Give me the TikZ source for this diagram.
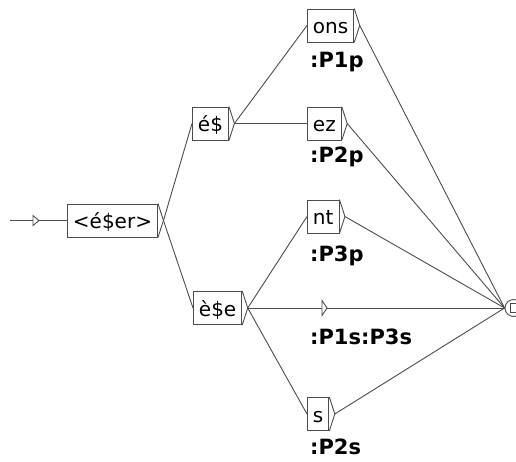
\documentclass[tikz,border=0pt]{standalone}
\usepackage{fontspec}
\setmainfont{DejaVu Sans}
\usetikzlibrary{calc}
\definecolor{ln}{rgb}{0.3,0.3,0.3}
\tikzset{
  conn/.style={draw=ln, line width=0.9pt},
  ubox/.style={draw=ln, line width=0.9pt, rectangle, anchor=west, inner xsep=5.5pt, inner ysep=0pt,
    text height=20pt, text depth=4pt, minimum height=33pt, font=\fontsize{20}{24}\selectfont},
  olabel/.style={anchor=base west, inner sep=0pt, font=\fontsize{21}{24}\selectfont\bfseries},
  fstate/.style={draw=ln, line width=0.9pt, circle, minimum size=17pt, inner sep=0pt},
}
\newcommand\boxtri[1]{\draw[conn] (#1.north east) -- ([xshift=5.5pt]#1.east) coordinate (#1-t) -- (#1.south east);}
\begin{document}
\begin{tikzpicture}[x=1pt,y=-1pt]
\useasboundingbox (0,0) rectangle (516,461);
% boxes
\node[ubox] (init) at (67,220.5) {<é\$er>};
\node[ubox] (es) at (192,123.5) {é\$};
\node[ubox] (ese) at (193,308) {è\$e};
\node[ubox] (ons) at (307,25.5) {ons};
\node[ubox] (ez) at (307,123.5) {ez};
\node[ubox] (nt) at (307,216.5) {nt};
\node[ubox] (s) at (307,414) {s};
\foreach \b in {init,es,ese,ons,ez,nt,s} {\boxtri{\b}}
% outputs
\node[olabel] (lons) at (310,67) {:P1p};
\node[olabel] (lez) at (310,162) {:P2p};
\node[olabel] (lnt) at (310,261) {:P3p};
\node[olabel] (leps) at (310,344) {:P1s:P3s};
\node[olabel] (ls) at (310,454.5) {:P2s};
% final state
\node[fstate] (fin) at (513.5,308) {};
\draw[conn] (510,303.5) rectangle (519,312.5);
% initial arrow
\coordinate (start) at (10,220.5);
\draw[conn] (start) -- (init.west);
\draw[conn, fill=white] (33,215.5) -- (39,220.5) -- (33,225.5) -- cycle;
% epsilon transition
\coordinate (eps) at (322,308);
\coordinate (epst) at (327,308);
% connectors
\draw[conn] (init-t) -- (es.west);
\draw[conn] (init-t) -- (ese.west);
\draw[conn] (es-t) -- (ons.west);
\draw[conn] (es-t) -- (ez.west);
\draw[conn] (ese-t) -- (nt.west);
\draw[conn] (ese-t) -- (eps);
\draw[conn] (ese-t) -- (s.west);
\draw[conn] (epst) -- (fin.west);
\draw[conn, fill=white] (322,300.5) -- (epst) -- (322,315.5) -- cycle;
\foreach \b in {ons,ez,nt,s} {\draw[conn] (\b-t) -- (fin.west);}
\end{tikzpicture}
\end{document}
